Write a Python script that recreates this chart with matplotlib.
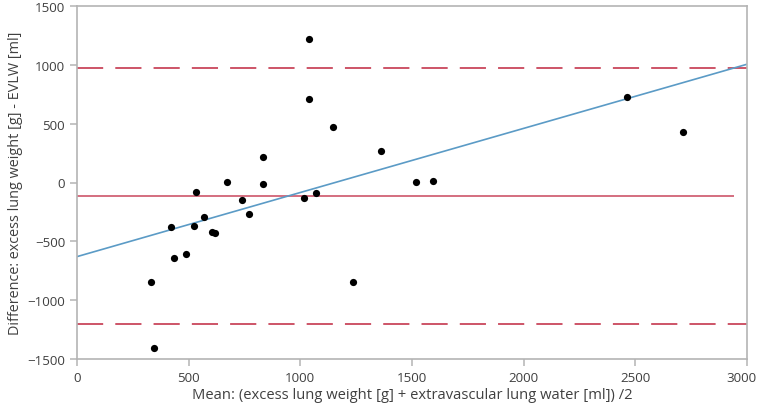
import matplotlib
matplotlib.use("Agg")
import matplotlib.pyplot as plt
from matplotlib.transforms import ScaledTranslation

# Data (Bland-Altman plot)
mean_vals = [1037, 1037, 1148, 1359, 835, 671, 832, 1520, 1593, 535, 1072, 1016, 740,
             768, 569, 423, 525, 604, 616, 486, 434, 332, 1236, 347, 2462, 2714]
diff_vals = [1220, 709, 469, 268, 216, 3, -16, 4, 15, -84, -92, -132, -152,
             -268, -291, -381, -373, -418, -432, -611, -642, -843, -843, -1407, 726, 429]

bias = -115
upper_loa = 973
lower_loa = -1203
reg_x = [0, 3000]
reg_y = [-630, 1005]
bias_x = [0, 2940]

x_ticks = [0, 500, 1000, 1500, 2000, 2500, 3000]
y_ticks = [-1500, -1000, -500, 0, 500, 1000, 1500]

plt.rcParams['font.family'] = ['Open Sans', 'DejaVu Sans']

fig = plt.figure(figsize=(7.6, 4.1), dpi=100)
ax = fig.add_axes([77/760, 1-360/410, (747-77)/760, (360-7)/410])

red = '#c9475c'
blue = '#5b9bc6'
gray = '#b4b4b4'
txt = '#404040'

ax.plot(bias_x, [bias, bias], color=red, lw=1.1, solid_capstyle='butt')
ax.plot([0, 3000], [upper_loa, upper_loa], color=red, lw=1.3, linestyle=(0, (14.5, 6.7)))
ax.plot([0, 3000], [lower_loa, lower_loa], color=red, lw=1.3, linestyle=(0, (14.5, 6.7)))
ax.plot(reg_x, reg_y, color=blue, lw=1.2)
ax.scatter(mean_vals, diff_vals, s=27, color='black', zorder=5, linewidths=0)

ax.set_xlim(0, 3000)
ax.set_ylim(-1500, 1500)
ax.set_xticks(x_ticks)
ax.set_yticks(y_ticks)

for sp in ax.spines.values():
    sp.set_color(gray)
    sp.set_linewidth(1.2)

ax.tick_params(axis='both', colors=gray, labelcolor=txt, labelsize=9.6, length=5, width=1.1)

# shift last x tick label slightly left so it stays inside the figure
last = ax.get_xticklabels()[-1]
last.set_transform(last.get_transform() + ScaledTranslation(-6/100, 0, fig.dpi_scale_trans))

ax.set_xlabel('Mean: (excess lung weight [g] + extravascular lung water [ml]) /2', fontsize=10.6, color=txt, labelpad=2)
ax.set_ylabel('Difference: excess lung weight [g] - EVLW [ml]', fontsize=10.4, color=txt, labelpad=3)

fig.savefig('out.png', dpi=100)
